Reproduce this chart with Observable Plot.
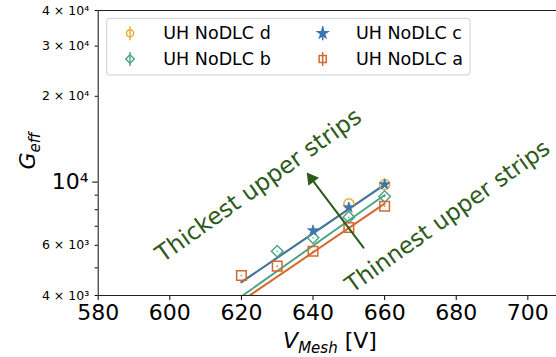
<!DOCTYPE html>
<html><head><meta charset="utf-8">
<script src="https://cdn.jsdelivr.net/npm/d3@7"></script>
<script src="https://cdn.jsdelivr.net/npm/@observablehq/plot@0.6"></script>
<style>
body{margin:0;background:#fff;}
svg{font-family:"DejaVu Sans";}
</style>
</head><body><div id="chart"></div>
<script>
// ---- data ----
const seriesNames = ["UH NoDLC d", "UH NoDLC b", "UH NoDLC c", "UH NoDLC a"];
const seriesColors = ["#e5ae38", "#50a584", "#3b76af", "#d3692e"];
const dV = [650, 660];               const dG = [8390, 9810];
const bV = [630, 640, 650, 660];     const bG = [5720, 6380, 7530, 8900];
const cV = [640, 650, 660];          const cG = [6760, 8140, 9810];
const aV = [620, 630, 640, 650, 660]; const aG = [4700, 5070, 5720, 6930, 8230];
// fit lines (end points)
const fitV = [620, 660];
const fitD = [4454, 9800];
const fitB = [3970, 9010];
const fitC = [4454, 9800];
const fitA = [3823, 8405];
// axes
const xDomain = [580, 708];
const yDomain = [4000, 40000];
const xTicks = [580, 600, 620, 640, 660, 680, 700];
const yMinorTicks = [5000, 7000, 8000, 9000];
const yLabeledTicks = [4000, 6000, 20000, 30000, 40000];
const yLabeledTickLabels = ["4 × 10³", "6 × 10³", "2 × 10⁴", "3 × 10⁴", "4 × 10⁴"];
const yMajorTicks = [10000];
const yMajorTickLabels = ["10⁴"];
// annotations
const annoTexts = ["Thickest upper strips", "Thinnest upper strips"];
const annoX = [624.8, 677.6];
const annoY = [9730, 7570];
const annoSize = [23.5, 23];
const arrowFrom = {x: 654.1, y: 5890};
const arrowTo = {x: 638.5, y: 10700};
const annoColor = "#2d5a19";

const pts = (V, G) => V.map((v, i) => ({V: v, G: G[i]}));
const fit = (F) => fitV.map((v, i) => ({V: v, G: F[i]}));
const ylabMap = new Map(yLabeledTicks.map((v, i) => [v, yLabeledTickLabels[i]]));
const ymajMap = new Map(yMajorTicks.map((v, i) => [v, yMajorTickLabels[i]]));

const plot = Plot.plot({
  width: 556, height: 357,
  marginLeft: 97.7, marginRight: 0, marginTop: 10, marginBottom: 62,
  style: {fontFamily: "DejaVu Sans", color: "#000", background: "#fff"},
  x: {domain: xDomain},
  y: {type: "log", domain: yDomain},
  marks: [
    Plot.axisX({ticks: xTicks, tickSize: 5, tickPadding: 4, fontSize: 22, label: null, tickFormat: d => String(d)}),
    Plot.axisY({ticks: yMinorTicks, tickSize: 3, tickFormat: () => "", label: null}),
    Plot.axisY({ticks: yLabeledTicks, tickSize: 3, tickPadding: 6, fontSize: 12.5, tickFormat: d => ylabMap.get(d), label: null}),
    Plot.axisY({ticks: yMajorTicks, tickSize: 5.5, tickPadding: 4, fontSize: 22, tickFormat: d => ymajMap.get(d), label: null}),
    Plot.ruleX([xDomain[0]], {stroke: "#222", strokeWidth: 1.1}),
    Plot.ruleY([yDomain[0], yDomain[1]], {stroke: "#222", strokeWidth: 1.1}),
    // fit lines
    Plot.line(fit(fitD), {x: "V", y: "G", stroke: seriesColors[0], strokeWidth: 2, clip: true}),
    Plot.line(fit(fitB), {x: "V", y: "G", stroke: seriesColors[1], strokeWidth: 2, clip: true}),
    Plot.line(fit(fitC), {x: "V", y: "G", stroke: seriesColors[2], strokeWidth: 2, clip: true}),
    Plot.line(fit(fitA), {x: "V", y: "G", stroke: seriesColors[3], strokeWidth: 2, clip: true}),
    // points
    Plot.dot(pts(dV, dG), {x: "V", y: "G", symbol: "circle", r: 5, stroke: seriesColors[0], fill: "none", strokeWidth: 1.5}),
    Plot.dot(pts(bV, bG), {x: "V", y: "G", symbol: "square", rotate: 45, r: 4.6, stroke: seriesColors[1], fill: "none", strokeWidth: 1.5}),
    Plot.dot(pts(cV, cG), {x: "V", y: "G", symbol: "star", r: 3.4, fill: seriesColors[2], stroke: seriesColors[2], strokeWidth: 0.8}),
    Plot.dot(pts(aV, aG), {x: "V", y: "G", symbol: "square", r: 5.4, stroke: seriesColors[3], fill: "none", strokeWidth: 1.5}),
    // small error bars / centre dots
    Plot.dot(pts(bV, bG), {x: "V", y: "G", r: 0.8, fill: seriesColors[1]}),
    Plot.dot(pts(aV, aG), {x: "V", y: "G", r: 0.8, fill: seriesColors[3]}),
    // annotations
    Plot.arrow([arrowFrom], {x1: d => arrowFrom.x, y1: d => arrowFrom.y, x2: d => arrowTo.x, y2: d => arrowTo.y, headLength: 0, insetEnd: 7, stroke: annoColor, strokeWidth: 2}),
    Plot.dot([arrowTo], {x: "x", y: "y", symbol: "triangle", r: 4, rotate: -37, dx: 3.7, dy: 4.9, fill: annoColor, stroke: annoColor}),
    Plot.text(annoTexts.map((t, i) => ({t, x: annoX[i], y: annoY[i], s: annoSize[i]})), {x: "x", y: "y", text: "t", rotate: -35.5, fontSize: d => d.s, fill: annoColor})
  ]
});

const svg = d3.select(plot);
// axis labels
const yl = svg.append("text").attr("transform", "translate(35,151) rotate(-90)").attr("text-anchor", "middle").attr("fill", "#000");
yl.append("tspan").attr("font-style", "italic").attr("font-size", 22).text("G");
yl.append("tspan").attr("font-style", "italic").attr("font-size", 15).attr("dy", 5).text("eff");
const xl = svg.append("text").attr("x", 330).attr("y", 348).attr("text-anchor", "middle").attr("fill", "#000");
xl.append("tspan").attr("font-style", "italic").attr("font-size", 22).text("V");
xl.append("tspan").attr("font-style", "italic").attr("font-size", 15).attr("dy", 5).text("Mesh");
xl.append("tspan").attr("font-size", 22).attr("dy", -5).text(" [V]");

// legend
const lg = svg.append("g");
lg.append("rect").attr("x", 106.7).attr("y", 18.3).attr("width", 363.3).attr("height", 56.7).attr("rx", 3)
  .attr("fill", "#fff").attr("fill-opacity", 0.8).attr("stroke", "#d0d0d0");
const legendSym = [
  {type: d3.symbolCircle, size: 40, fill: "none", rot: 0},
  {type: d3.symbolSquare, size: 36, fill: "none", rot: 45},
  {type: d3.symbolStar, size: 30, fill: "c", rot: 0},
  {type: d3.symbolSquare, size: 50, fill: "none", rot: 0}
];
const legendPos = [[130, 33.3], [130, 59], [322.7, 33.3], [322.7, 59]];
seriesNames.forEach((name, i) => {
  const [mx, my] = legendPos[i];
  const c = seriesColors[i];
  lg.append("line").attr("x1", mx).attr("x2", mx).attr("y1", my - 7).attr("y2", my + 7).attr("stroke", c).attr("stroke-width", 1.5);
  lg.append("path").attr("d", d3.symbol(legendSym[i].type, legendSym[i].size)())
    .attr("transform", `translate(${mx},${my}) rotate(${legendSym[i].rot})`)
    .attr("fill", legendSym[i].fill === "c" ? c : "none").attr("stroke", c).attr("stroke-width", 1.5);
  lg.append("text").attr("x", mx + 33.3).attr("y", my).attr("dy", "0.35em").attr("text-anchor", "start")
    .attr("font-size", 17.5).attr("fill", "#000").text(name);
});

document.getElementById("chart").appendChild(plot);
</script>
</body></html>
